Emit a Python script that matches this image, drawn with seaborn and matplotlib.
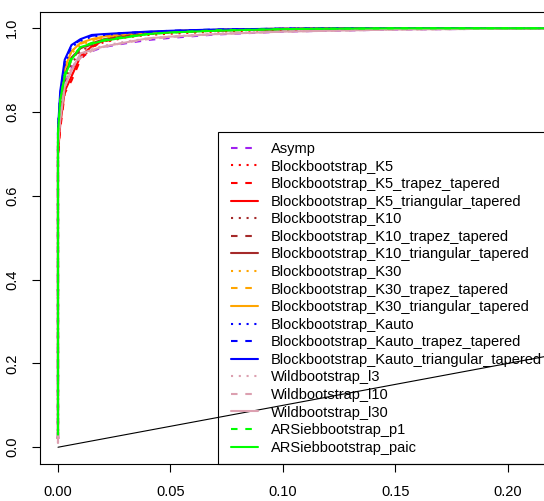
import matplotlib
matplotlib.use("Agg")
import matplotlib.pyplot as plt
import seaborn as sns
import pandas as pd
from matplotlib.patches import Rectangle

sns.set_theme(style="white")
plt.rcParams['font.family'] = ['Liberation Sans', 'DejaVu Sans']
plt.rcParams['lines.scale_dashes'] = False

# false positive rate grid (x) shared by all curves
fpr = [0.0, 0.0, 0.001, 0.003, 0.006, 0.01, 0.015, 0.02, 0.03, 0.04, 0.05, 0.07, 0.1, 0.15, 0.2, 1.0]

series_names = [
    "Asymp",
    "Blockbootstrap_K5", "Blockbootstrap_K5_trapez_tapered", "Blockbootstrap_K5_triangular_tapered",
    "Blockbootstrap_K10", "Blockbootstrap_K10_trapez_tapered", "Blockbootstrap_K10_triangular_tapered",
    "Blockbootstrap_K30", "Blockbootstrap_K30_trapez_tapered", "Blockbootstrap_K30_triangular_tapered",
    "Blockbootstrap_Kauto", "Blockbootstrap_Kauto_trapez_tapered", "Blockbootstrap_Kauto_triangular_tapered",
    "Wildbootstrap_l3", "Wildbootstrap_l10", "Wildbootstrap_l30",
    "ARSiebbootstrap_p1", "ARSiebbootstrap_paic",
]

asymp     = [0.02, 0.70, 0.80, 0.87, 0.905, 0.93, 0.945, 0.955, 0.964, 0.972, 0.977, 0.985, 0.992, 0.997, 0.999, 1.0]
k5        = [0.02, 0.70, 0.78, 0.86, 0.90, 0.935, 0.955, 0.966, 0.978, 0.984, 0.987, 0.992, 0.996, 0.999, 1.0, 1.0]
k5_trap   = [0.02, 0.70, 0.76, 0.845, 0.875, 0.925, 0.955, 0.968, 0.980, 0.986, 0.990, 0.994, 0.998, 1.0, 1.0, 1.0]
k5_tri    = [0.02, 0.70, 0.77, 0.85, 0.885, 0.933, 0.957, 0.970, 0.982, 0.987, 0.991, 0.995, 0.998, 1.0, 1.0, 1.0]
k10       = [0.02, 0.72, 0.80, 0.875, 0.915, 0.945, 0.960, 0.970, 0.982, 0.988, 0.990, 0.995, 0.998, 1.0, 1.0, 1.0]
k10_trap  = [0.02, 0.72, 0.80, 0.885, 0.925, 0.950, 0.962, 0.972, 0.983, 0.988, 0.991, 0.995, 0.998, 1.0, 1.0, 1.0]
k10_tri   = [0.02, 0.72, 0.81, 0.89, 0.930, 0.952, 0.964, 0.973, 0.984, 0.989, 0.991, 0.995, 0.998, 1.0, 1.0, 1.0]
k30       = [0.02, 0.74, 0.82, 0.90, 0.940, 0.960, 0.970, 0.977, 0.986, 0.990, 0.993, 0.996, 0.999, 1.0, 1.0, 1.0]
k30_trap  = [0.02, 0.74, 0.82, 0.905, 0.945, 0.963, 0.972, 0.978, 0.986, 0.990, 0.993, 0.996, 0.999, 1.0, 1.0, 1.0]
k30_tri   = [0.02, 0.74, 0.83, 0.905, 0.945, 0.965, 0.974, 0.980, 0.987, 0.991, 0.993, 0.996, 0.999, 1.0, 1.0, 1.0]
kauto     = [0.02, 0.76, 0.84, 0.915, 0.955, 0.970, 0.980, 0.984, 0.988, 0.991, 0.993, 0.996, 0.999, 1.0, 1.0, 1.0]
kauto_tr  = [0.02, 0.76, 0.84, 0.92, 0.958, 0.972, 0.982, 0.985, 0.989, 0.991, 0.994, 0.997, 0.999, 1.0, 1.0, 1.0]
kauto_tri = [0.02, 0.76, 0.85, 0.925, 0.960, 0.974, 0.984, 0.986, 0.989, 0.992, 0.994, 0.997, 0.999, 1.0, 1.0, 1.0]
wild3     = [0.01, 0.72, 0.80, 0.87, 0.905, 0.935, 0.950, 0.958, 0.968, 0.976, 0.980, 0.987, 0.993, 0.997, 0.999, 1.0]
wild10    = [0.01, 0.72, 0.79, 0.86, 0.90, 0.930, 0.946, 0.955, 0.966, 0.974, 0.979, 0.986, 0.992, 0.997, 0.999, 1.0]
wild30    = [0.01, 0.72, 0.78, 0.86, 0.90, 0.940, 0.948, 0.956, 0.966, 0.976, 0.980, 0.986, 0.992, 0.997, 0.999, 1.0]
ar_p1     = [0.03, 0.75, 0.83, 0.89, 0.93, 0.955, 0.965, 0.972, 0.980, 0.986, 0.990, 0.995, 0.998, 1.0, 1.0, 1.0]
ar_paic   = [0.03, 0.75, 0.83, 0.885, 0.925, 0.955, 0.963, 0.970, 0.978, 0.986, 0.990, 0.994, 0.998, 1.0, 1.0, 1.0]

series_values = [asymp, k5, k5_trap, k5_tri, k10, k10_trap, k10_tri, k30, k30_trap, k30_tri,
                 kauto, kauto_tr, kauto_tri, wild3, wild10, wild30, ar_p1, ar_paic]

PURPLE, RED, BROWN, ORANGE, BLUE, PINK, GREEN = "#A020F0", "#FF0000", "#A52A2A", "#FFA500", "#0000FF", "#DCA0B0", "#00FF00"
DOT = (0, (1.5, 4.1))
DASH = (0, (4.7, 5.6))
SOLID = "-"
styles = [
    (PURPLE, DASH),
    (RED, DOT), (RED, DASH), (RED, SOLID),
    (BROWN, DOT), (BROWN, DASH), (BROWN, SOLID),
    (ORANGE, DOT), (ORANGE, DASH), (ORANGE, SOLID),
    (BLUE, DOT), (BLUE, DASH), (BLUE, SOLID),
    (PINK, DOT), (PINK, DASH), (PINK, SOLID),
    (GREEN, DASH), (GREEN, SOLID),
]

fig = plt.figure(figsize=(5.44, 5.01), dpi=100)
W, H = 544.0, 501.0
x_left, x_right = -0.008, 0.26
px_per_x = 2249.0
ax_w = (x_right - x_left) * px_per_x
ax = fig.add_axes([40 / W, (H - 464) / H, ax_w / W, (464 - 11.5) / H])
ax.set_facecolor("white")

for name, vals, (col, ls) in zip(series_names, series_values, styles):
    df = pd.DataFrame({"fpr": fpr, "tpr": vals})
    sns.lineplot(data=df, x="fpr", y="tpr", color=col, linestyle=ls, linewidth=1.5,
                 estimator=None, sort=False, ax=ax, label=name, legend=False)

# diagonal reference line
sns.lineplot(x=[0, 1], y=[0, 1], color="black", linewidth=0.8, estimator=None,
             sort=False, ax=ax, legend=False, zorder=6)

ax.set_xlim(x_left, x_right)
ax.set_ylim(-0.04, 1.04)
ax.set_xlabel("")
ax.set_ylabel("")
ax.set_xticks([0.0, 0.05, 0.10, 0.15, 0.20])
ax.set_xticklabels(["0.00", "0.05", "0.10", "0.15", "0.20"])
ax.set_yticks([0.0, 0.2, 0.4, 0.6, 0.8, 1.0])
ax.set_yticklabels(["0.0", "0.2", "0.4", "0.6", "0.8", "1.0"], rotation=90, va="center")
ax.tick_params(axis="both", direction="out", length=5.5, width=0.8, color="black",
               labelsize=10.5, labelcolor="black", pad=9.5, bottom=True, left=True)
for sp in ax.spines.values():
    sp.set_color("black")
    sp.set_linewidth(0.8)

# legend box (R-style, extends beyond right edge)
box = Rectangle((217.5 / W, (H - 464) / H), 400 / W, (464 - 132) / H, transform=fig.transFigure,
                fill=False, edgecolor="black", linewidth=0.8, zorder=5)
fig.patches.append(box)

h, l = ax.get_legend_handles_labels()
leg = fig.legend(h, l, loc="upper left", bbox_to_anchor=(231 / W, (H - 142) / H),
                 frameon=False, fontsize=10.5, handlelength=1.85, handletextpad=0.9,
                 labelspacing=0.245, borderpad=0, borderaxespad=0)
for t in leg.get_texts():
    t.set_color("black")

fig.savefig("out.png", dpi=100)
